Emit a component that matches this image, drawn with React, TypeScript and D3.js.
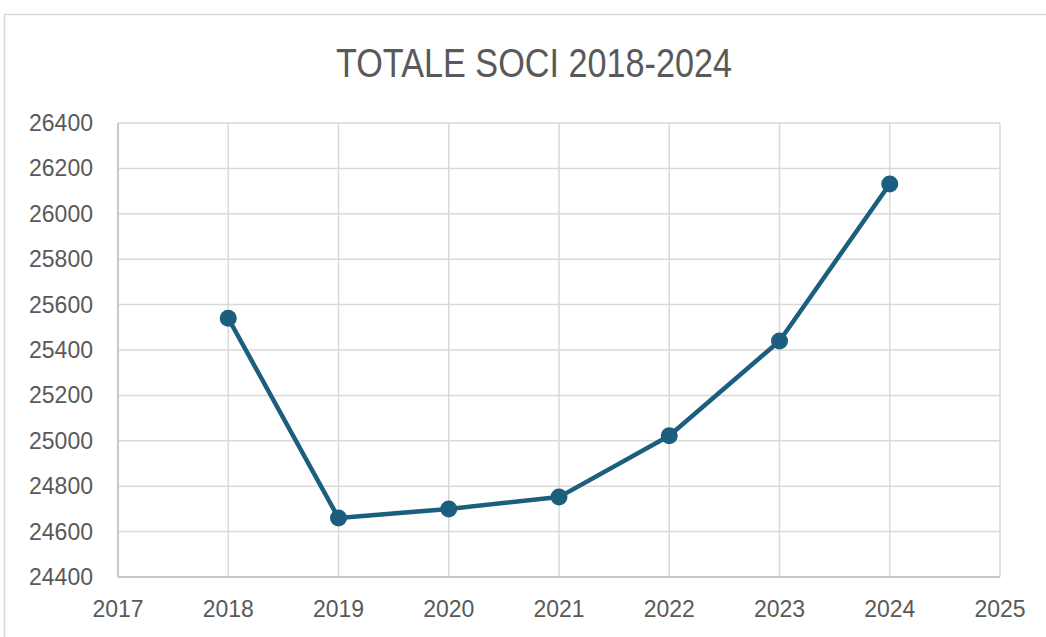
import React from 'react';
import * as d3 from 'd3';

const years = [2018, 2019, 2020, 2021, 2022, 2023, 2024];
const soci = [25540, 24660, 24700, 24752, 25022, 25440, 26131];
const xTicks = [2017, 2018, 2019, 2020, 2021, 2022, 2023, 2024, 2025];
const yTicks = [24400, 24600, 24800, 25000, 25200, 25400, 25600, 25800, 26000, 26200, 26400];
const title = 'TOTALE SOCI 2018-2024';

const width = 1046;
const height = 637;
const margin = { top: 123, right: 46, bottom: 60, left: 118 };
const lineColor = '#1b5e7e';
const gridColor = '#d9d9d9';
const textColor = '#595959';
const font = '"Liberation Sans", Arial, sans-serif';

function App() {
  const x = d3.scaleLinear()
    .domain([2017, 2025])
    .range([margin.left, width - margin.right]);
  const y = d3.scaleLinear()
    .domain([24400, 26400])
    .range([height - margin.bottom, margin.top]);

  const data = years.map((yr, i) => ({ yr, v: soci[i] }));
  const line = d3.line<{ yr: number; v: number }>()
    .x(d => x(d.yr))
    .y(d => y(d.v));

  return (
    <svg width={width} height={height} style={{ position: 'absolute', left: 0, top: 0, background: '#fff' }}>
      <rect x={4.5} y={14.5} width={width + 10} height={height + 10} fill="#fff" stroke="#d9d9d9" strokeWidth={1.5} />
      <text x={534} y={77} textAnchor="middle" fontFamily={font} fontSize={40} fill={textColor}
        textLength={396} lengthAdjust="spacingAndGlyphs">{title}</text>
      {yTicks.map(t => (
        <line key={'gy' + t} x1={x(2017)} x2={x(2025)} y1={y(t)} y2={y(t)} stroke={gridColor} strokeWidth={1.5} />
      ))}
      {xTicks.map(t => (
        <line key={'gx' + t} x1={x(t)} x2={x(t)} y1={y(24400)} y2={y(26400)} stroke={gridColor} strokeWidth={1.5} />
      ))}
      <line x1={x(2017)} x2={x(2017)} y1={y(24400)} y2={y(26400)} stroke="#bfbfbf" strokeWidth={1.5} />
      <line x1={x(2017)} x2={x(2025)} y1={y(24400)} y2={y(24400)} stroke="#bfbfbf" strokeWidth={1.5} />
      {yTicks.map(t => (
        <text key={'ty' + t} x={93} y={y(t) + 8} textAnchor="end" fontFamily={font} fontSize={23} fill={textColor}>{t}</text>
      ))}
      {xTicks.map(t => (
        <text key={'tx' + t} x={x(t)} y={617} textAnchor="middle" fontFamily={font} fontSize={23} fill={textColor}>{t}</text>
      ))}
      <path d={line(data) ?? ''} fill="none" stroke={lineColor} strokeWidth={4.5} strokeLinejoin="round" />
      {data.map(d => (
        <circle key={d.yr} cx={x(d.yr)} cy={y(d.v)} r={8.5} fill={lineColor} />
      ))}
    </svg>
  );
}

export default App;
